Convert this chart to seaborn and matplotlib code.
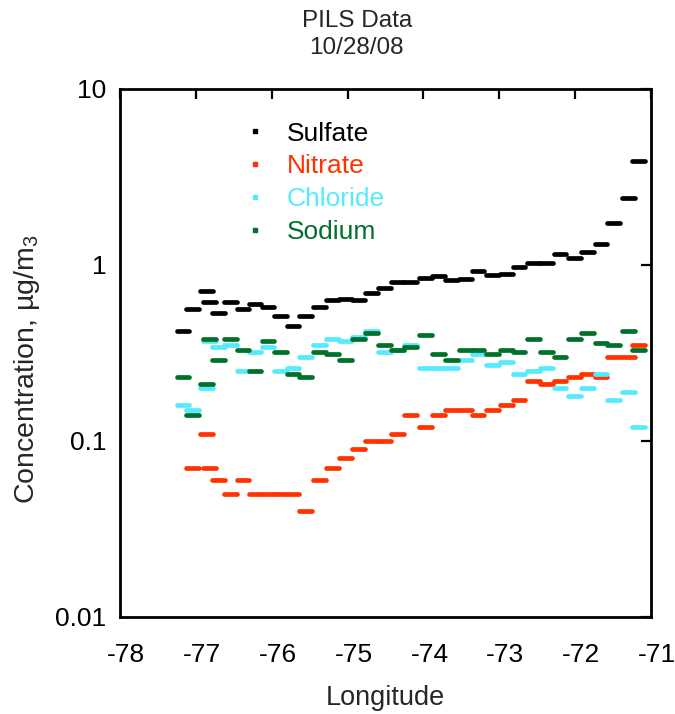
import numpy as np
import pandas as pd
import seaborn as sns
import matplotlib
matplotlib.use('Agg')
import matplotlib.pyplot as plt
import matplotlib.transforms as mtransforms
from matplotlib.lines import Line2D
from matplotlib.ticker import NullLocator

################################################################################
# data (10/28/08)

lon = [-77.17, -77.04, -76.86, -76.82, -76.70, -76.54, -76.38, -76.22, -76.05, -75.88,
       -75.72, -75.55, -75.37, -75.20, -75.03, -74.86, -74.68, -74.51, -74.34, -74.17,
       -73.97, -73.80, -73.63, -73.45, -73.28, -73.09, -72.91, -72.74, -72.55, -72.38,
       -72.20, -72.01, -71.84, -71.66, -71.49, -71.30, -71.16]

sulfate = [0.42, 0.56, 0.71, 0.62, 0.53, 0.62, 0.56, 0.60, 0.58, 0.51,
           0.45, 0.51, 0.58, 0.63, 0.64, 0.63, 0.69, 0.74, 0.80, 0.80,
           0.84, 0.86, 0.82, 0.83, 0.93, 0.88, 0.89, 0.98, 1.02, 1.03,
           1.15, 1.10, 1.19, 1.32, 1.73, 2.39, 3.90]

nitrate = [np.nan, 0.07, 0.11, 0.07, 0.06, 0.05, 0.06, 0.05, 0.05, 0.05,
           0.05, 0.04, 0.06, 0.07, 0.08, 0.09, 0.10, 0.10, 0.11, 0.14,
           0.12, 0.14, 0.15, 0.15, 0.14, 0.15, 0.16, 0.17, 0.22, 0.21,
           0.22, 0.23, 0.24, 0.23, 0.30, 0.30, 0.35]

chloride = [0.16, 0.15, 0.20, 0.37, 0.34, 0.35, 0.25, 0.32, 0.34, 0.25,
            0.26, 0.30, 0.35, 0.38, 0.37, 0.39, 0.42, 0.32, 0.33, 0.35,
            0.26, 0.26, 0.26, 0.29, 0.31, 0.27, 0.28, 0.24, 0.25, 0.26,
            0.20, 0.18, 0.20, 0.24, 0.17, 0.19, 0.12]

sodium = [0.23, 0.14, 0.21, 0.38, 0.29, 0.38, 0.33, 0.25, 0.37, 0.32,
          0.24, 0.23, 0.32, 0.31, 0.29, 0.38, 0.41, 0.35, 0.33, 0.34,
          0.40, 0.31, 0.29, 0.33, 0.33, 0.31, 0.33, 0.32, 0.38, 0.32,
          0.30, 0.38, 0.41, 0.36, 0.35, 0.42, 0.33]

names = ['Sulfate', 'Nitrate', 'Chloride', 'Sodium']
colors = ['#000000', '#FF3300', '#55EBFF', '#00702A']

xticks = [-78, -77, -76, -75, -74, -73, -72, -71]
xticklabels = ['-78', '-77', '-76', '-75', '-74', '-73', '-72', '-71']
yticks = [0.01, 0.1, 1, 10]
yticklabels = ['0.01', '0.1', '1', '10']

################################################################################

frames = []
for name, vals in zip(names, [sulfate, nitrate, chloride, sodium]):
    frames.append(pd.DataFrame({'lon': lon, 'conc': vals, 'species': name}))
df = pd.concat(frames, ignore_index=True).dropna()

sns.set_style('white')
plt.rcParams['font.family'] = ['Liberation Sans', 'DejaVu Sans']
plt.rcParams['axes.unicode_minus'] = False
fs = 19

fig = plt.figure(figsize=(6.75, 7.14), dpi=100)
ax = fig.add_axes([0.1778, 0.1359, 0.7867, 0.7395])

sns.scatterplot(data=df, x='lon', y='conc', hue='species', hue_order=names,
                palette=colors, marker='_', s=85, linewidth=3.4,
                legend=False, ax=ax)
for c in ax.collections:
    c.set_capstyle('round')

ax.set_yscale('log')
ax.set_xlim(-78, -71)
ax.set_ylim(0.01, 10)
ax.set_xticks(xticks)
ax.set_xticklabels(xticklabels)
ax.set_yticks(yticks)
ax.set_yticklabels(yticklabels)
ax.yaxis.set_minor_locator(NullLocator())

ax.tick_params(direction='in', length=7, width=1.6, top=True, right=True,
               labelsize=fs, colors='black')
ax.tick_params(axis='x', pad=19)
ax.tick_params(axis='y', pad=10)
for sp in ax.spines.values():
    sp.set_visible(True)
    sp.set_linewidth(2)
    sp.set_color('black')

# tick labels in the original sit a little right of their ticks
offset = mtransforms.ScaledTranslation(6 / 100, 0, fig.dpi_scale_trans)
for lab in ax.get_xticklabels():
    lab.set_transform(lab.get_transform() + offset)

ax.set_xlabel('Longitude', fontsize=19.5, labelpad=13)
ax.set_ylabel('Concentration, µg/m$_\\mathregular{3}$', fontsize=20.5)
ax.yaxis.set_label_coords(-0.147, 0.47)
ax.set_title('PILS Data\n10/28/08', fontsize=17.5, x=0.446, pad=25,
             linespacing=1.3)

handles = [Line2D([], [], marker='s', markersize=2.5, linestyle='none', color=c)
           for c in colors]
leg = ax.legend(handles, names, loc='upper left', bbox_to_anchor=(0.209, 0.958),
                borderaxespad=0, frameon=False, fontsize=fs, handlelength=1.0,
                handletextpad=0.72, labelspacing=0.33)
for t, c in zip(leg.get_texts(), colors):
    t.set_color(c)

fig.savefig('out.png', dpi=100)
